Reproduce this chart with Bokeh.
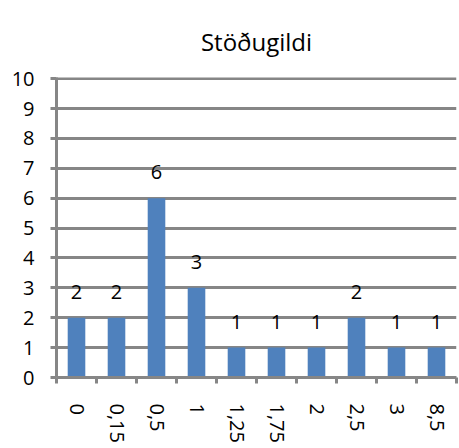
from bokeh.plotting import figure
from bokeh.models import Range1d, FixedTicker, ColumnDataSource
from bokeh.core.properties import value
from bokeh.embed import file_html
from bokeh.resources import INLINE

title_text = "Stöðugildi"
categories = ["0", "0,15", "0,5", "1", "1,25", "1,75", "2", "2,5", "3", "8,5"]
values = [2, 2, 6, 3, 1, 1, 1, 2, 1, 1]
y_ticks = list(range(0, 11))

FONT = "Open Sans"
GRID = "#868686"
BAR = "#4F81BD"

idx = list(range(len(categories)))
src = ColumnDataSource(dict(x=idx, top=values, label=[str(v) for v in values]))

p = figure(width=458, height=447, output_backend="svg", toolbar_location=None,
           x_range=Range1d(-0.5, len(categories) - 0.5), y_range=Range1d(0, 10.04),
           min_border_left=56, min_border_right=2, min_border_top=77, min_border_bottom=70,
           title=title_text)
p.outline_line_color = None
p.background_fill_color = "white"
p.border_fill_color = "white"

p.title.align = "center"
p.title.vertical_align = "top"
p.title.text_font = FONT
p.title.text_font_size = "24px"
p.title.text_font_style = "normal"
p.title.text_color = "black"
p.title.standoff = 36
p.title.offset = -6

p.xgrid.grid_line_color = None
p.ygrid.ticker = FixedTicker(ticks=y_ticks)
p.ygrid.grid_line_color = GRID
p.ygrid.grid_line_width = 3

p.vbar(x="x", top="top", bottom=0, width=0.44, source=src,
       fill_color=BAR, line_color=None)
p.text(x="x", y="top", text="label", source=src, text_align="center",
       text_baseline="alphabetic", y_offset=-26, text_font=value(FONT),
       text_font_size="20px", text_color="black")

ya = p.yaxis[0]
ya.ticker = FixedTicker(ticks=y_ticks)
ya.axis_line_color = GRID
ya.axis_line_width = 3
ya.major_tick_line_color = GRID
ya.major_tick_line_width = 3
ya.major_tick_out = 6
ya.major_tick_in = 0
ya.minor_tick_line_color = None
ya.major_label_text_font = FONT
ya.major_label_text_font_size = "20px"
ya.major_label_text_color = "black"
ya.major_label_standoff = 16

xa = p.xaxis[0]
xa.ticker = FixedTicker(ticks=idx, minor_ticks=[i - 0.5 for i in range(len(categories) + 1)])
xa.major_label_overrides = {i: c for i, c in zip(idx, categories)}
xa.axis_line_color = GRID
xa.axis_line_width = 3
xa.major_tick_line_color = None
xa.minor_tick_line_color = GRID
xa.minor_tick_line_width = 3
xa.minor_tick_out = 6
xa.minor_tick_in = 0
xa.major_label_orientation = "vertical"
xa.major_label_text_font = FONT
xa.major_label_text_font_size = "20px"
xa.major_label_text_color = "black"
xa.major_label_standoff = 20

open("out.html", "w").write(file_html(p, INLINE))
